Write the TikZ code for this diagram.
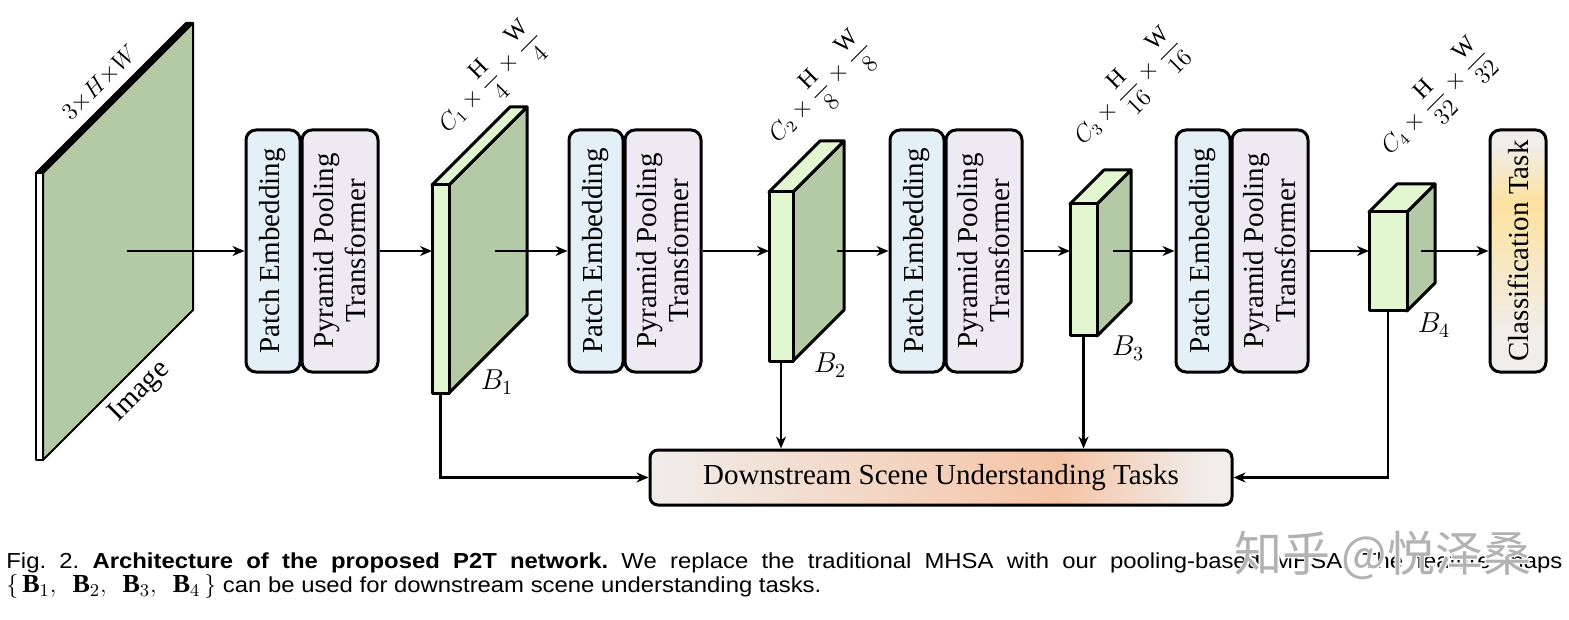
\documentclass[tikz,border=0pt]{standalone}
\usepackage{amsmath}
\usepackage{fontspec}
\setmainfont{Liberation Serif}
\newfontfamily\capfont[FakeStretch=1.1]{Liberation Sans}
\newfontfamily\cjkfont{Noto Sans CJK SC}
\newfontfamily\cjkhalo[FakeBold=5]{Noto Sans CJK SC}
\usepackage{xcolor}
\definecolor{sageGreen}{RGB}{180, 202, 166}
\definecolor{lightGreen}{RGB}{226, 246, 208}
\definecolor{paleBlue}{RGB}{227, 240, 247}
\definecolor{paleLilac}{RGB}{237, 234, 242}
\definecolor{warmGrey}{RGB}{240, 237, 234}
\definecolor{peach}{RGB}{245, 196, 166}
\definecolor{amber}{RGB}{253, 226, 160}
\usepackage{tikz}
\usetikzlibrary{arrows.meta,shapes,calc,positioning}
\pgfdeclarehorizontalshading{downShade}{100bp}{color(0bp)=(warmGrey); color(25bp)=(warmGrey);
    color(60bp)=(peach); color(73bp)=(warmGrey); color(100bp)=(warmGrey)}
\pgfdeclareverticalshading{clsShade}{100bp}{color(0bp)=(warmGrey); color(33bp)=(warmGrey);
    color(60bp)=(amber); color(72bp)=(warmGrey); color(100bp)=(warmGrey)}
\tikzstyle{edge}  =[->, >={Stealth[length=6pt, width=5pt]}, line width=1.3pt]
\tikzstyle{face}  =[draw, line join=round]
\tikzstyle{box}   =[draw, rounded corners=5pt, line width=1.5pt,
                    inner sep=0pt, align=center,
                    font=\fontsize{14.5}{16}\selectfont]
\tikzstyle{block} =[box, rotate=90, minimum width=121pt]
\tikzstyle{dim}   =[rotate=45, inner sep=0pt,
                    font=\fontsize{12}{14}\selectfont]

\begin{document}
\begin{tikzpicture}[x=0.5pt, y=-0.5pt]
    \useasboundingbox (0,0) rectangle (1569,620);

    % input image and feature maps
    \foreach \n/\bx/\by/\bw/\bh/\bd/\ox/\fc/\tc/\lw in {img/36/173/7/287/150/127/white/black/1pt,
        b1/432/185/17/208/78/495/lightGreen/lightGreen/1.5pt,
        b2/769/192/24/169/51/837/lightGreen/lightGreen/1.5pt,
        b3/1070/204/27/132/34/1113/lightGreen/lightGreen/1.5pt,
        b4/1369/212/38/99/28/1421/lightGreen/lightGreen/1.5pt}
    {
        \draw[face, line width=\lw, fill=sageGreen] (\bx+\bw,\by) -- ++(\bd,-\bd) -- ++(0,\bh) -- ++(-\bd,\bd) -- cycle;
        \draw[face, line width=\lw, fill=\tc] (\bx,\by) -- ++(\bd,-\bd) -- ++(\bw,0) -- ++(-\bd,\bd) -- cycle;
        \draw[face, line width=\lw, fill=\fc] (\bx,\by) rectangle ++(\bw,\bh);
        \coordinate (\n-in) at (\bx,251);
        \coordinate (\n-out) at (\ox,251);
        \coordinate (\n-bot) at (\bx+\bw/2,\by+\bh);
    }

    \node (img-dim) [dim, font=\fontsize{12.5}{14}\selectfont] at (100,83) {$3{\times}H{\times}W$};
    \node (img-name) [rotate=45, font=\fontsize{14.5}{16}\selectfont] at (140,392) {Image};

    \foreach \i/\x/\y/\dx/\dy/\s in {1/497/382/490/80/4, 2/830/365/820/90/8,
        3/1128/348/1128/90/16, 4/1434/325/1435/100/32}
    {
        \node (lb\i) [font=\fontsize{14.5}{16}\selectfont] at (\x,\y) {$B_\i$};
        \node (dim\i) [dim] at (\dx,\dy) {$C_\i\times\dfrac{\mathrm{H}}{\s}\times\dfrac{\mathrm{W}}{\s}$};
    }

    % stages
    \foreach \i/\x in {1/273, 2/596, 3/917, 4/1203}
    {
        \node (pe\i) [block, fill=paleBlue, minimum height=27pt] at (\x,251) {Patch Embedding};
        \node (ppt\i) [block, fill=paleLilac, minimum height=38pt] at (\x+67,251) {Pyramid Pooling\\Transformer};
    }
    \node (cls) [block, shade, shading=clsShade, minimum height=28pt] at (1518,251) {Classification Task};
    \node (down) [box, shade, shading=downShade, rounded corners=4pt,
        minimum width=291pt, minimum height=27.5pt] at (941,477.5) {Downstream Scene Understanding Tasks};

    \foreach \a/\b in {img-out/pe1, b1-out/pe2, b2-out/pe3, b3-out/pe4, b4-out/cls}
        \draw [edge] (\a) -- (\b);
    \foreach \i in {1,...,4}
        \draw [edge] (ppt\i) -- (b\i-in);
    \draw [edge] (b1-bot) |- (down);
    \draw [edge] (b4-bot) |- (down);
    \draw [edge] (b2-bot) -- (b2-bot |- down.north);
    \draw [edge] (b3-bot) -- (b3-bot |- down.north);

    % caption
    \node (cap) [anchor=north west, inner sep=0pt, text width=778pt, align=justify,
        font=\capfont\fontsize{10.85}{11.2}\selectfont\frenchspacing] at (6,552)
        {Fig. 2. \textbf{Architecture of the proposed P2T network.} We replace the traditional MHSA with our pooling-based MHSA. The feature maps\linebreak
        {\fontsize{13}{11.2}\selectfont$\{\,\mathbf{B}_1,\mkern9mu\mathbf{B}_2,\mkern9mu\mathbf{B}_3,\mkern9mu\mathbf{B}_4\,\}$} can be used for downstream scene understanding tasks.};
    \node (halo) [text=white, font=\cjkhalo\fontsize{24}{24}\selectfont] at (1383,555) {知乎 @悦泽桑};
    \node (mark) [text=black!30, font=\cjkfont\fontsize{24}{24}\selectfont] at (1383,555) {知乎 @悦泽桑};
\end{tikzpicture}
\end{document}
